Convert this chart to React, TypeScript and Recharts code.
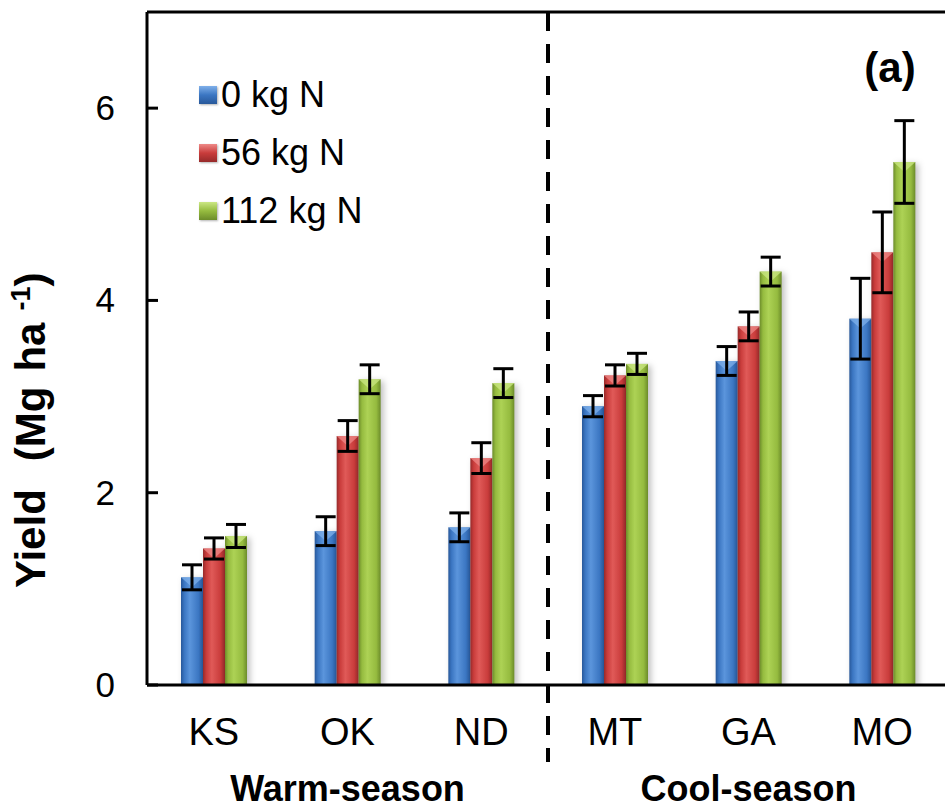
import React from "react";
import {
  BarChart,
  Bar,
  XAxis,
  YAxis,
  ErrorBar,
  ReferenceLine,
  Legend,
} from "recharts";

// sites along the x axis and the season group each block belongs to
const sites = ["KS", "OK", "ND", "MT", "GA", "MO"];
const groupLabels: Record<string, string> = {
  OK: "Warm-season",
  GA: "Cool-season",
};

// yield (Mg ha-1) and error bars per N rate
const yield0 = [1.12, 1.6, 1.64, 2.9, 3.37, 3.81];
const err0 = [0.13, 0.15, 0.15, 0.11, 0.15, 0.42];
const yield56 = [1.42, 2.59, 2.36, 3.22, 3.73, 4.5];
const err56 = [0.11, 0.16, 0.16, 0.11, 0.15, 0.42];
const yield112 = [1.55, 3.18, 3.14, 3.34, 4.3, 5.44];
const err112 = [0.12, 0.15, 0.15, 0.11, 0.15, 0.43];

const yTicks = [0, 2, 4, 6];

const data = sites.map((site, i) => ({
  site,
  n0: yield0[i],
  e0: err0[i],
  n56: yield56[i],
  e56: err56[i],
  n112: yield112[i],
  e112: err112[i],
}));

const FONT = "'Liberation Sans', Arial, sans-serif";

const series = [
  { key: "n0", err: "e0", name: "0 kg N", id: "gBlue", base: "#3b76c2", dark: "#28589a", light: "#5b95dc", top: "#7fb0ea" },
  { key: "n56", err: "e56", name: "56 kg N", id: "gRed", base: "#c93c3b", dark: "#962a2a", light: "#e05a58", top: "#ee8a88" },
  { key: "n112", err: "e112", name: "112 kg N", id: "gGreen", base: "#95bb3f", dark: "#6c8c2a", light: "#add255", top: "#cbe784" },
];

function makeShape(s: (typeof series)[number]) {
  return (props: any) => {
    const { x, y, width, height } = props;
    if (!height || height <= 0) return <g />;
    const b = Math.min(width * 0.45, height);
    return (
      <g style={{ filter: "drop-shadow(3px 2px 3px rgba(0,0,0,0.25))" }}>
        <rect x={x} y={y} width={width} height={height} fill={`url(#${s.id})`} />
        <polygon
          points={`${x},${y} ${x + width},${y} ${x + width / 2},${y + b}`}
          fill={s.top}
          opacity={0.75}
        />
      </g>
    );
  };
}

const YTick = (props: any) => {
  const { x, y, payload } = props;
  return (
    <g>
      <text
        x={x}
        y={y}
        dy={12}
        textAnchor="end"
        fontSize={35}
        fontFamily={FONT}
        fill="#000"
      >
        {payload.value}
      </text>
      <line x1={x + 32} x2={x + 43} y1={y} y2={y} stroke="#000" strokeWidth={3} />
    </g>
  );
};

const XTick = (props: any) => {
  const { x, y, payload } = props;
  const group = groupLabels[payload.value];
  return (
    <g>
      <text
        x={x}
        y={y + 60}
        textAnchor="middle"
        fontSize={38}
        fontFamily={FONT}
        fill="#000"
      >
        {payload.value}
      </text>
      {group && (
        <text
          x={x}
          y={y + 116}
          textAnchor="middle"
          fontSize={36}
          fontWeight="bold"
          fontFamily={FONT}
          fill="#000"
        >
          {group}
        </text>
      )}
    </g>
  );
};

const LegendBox = () => (
  <div style={{ fontFamily: FONT, fontSize: 36, color: "#000" }}>
    {series.map((s) => (
      <div
        key={s.key}
        style={{ display: "flex", alignItems: "center", height: 58 }}
      >
        <span
          style={{
            display: "inline-block",
            width: 18,
            height: 18,
            marginRight: 4,
            background: `linear-gradient(180deg, ${s.top} 0%, ${s.base} 50%, ${s.dark} 100%)`,
            boxShadow: "1px 1px 2px rgba(0,0,0,0.3)",
          }}
        />
        <span>{s.name}</span>
      </div>
    ))}
  </div>
);

export default function App() {
  return (
    <div
      style={{
        position: "absolute",
        left: 0,
        top: 0,
        width: 945,
        height: 809,
        overflow: "hidden",
        background: "#fff",
      }}
    >
      <svg width={0} height={0} style={{ position: "absolute" }}>
        <defs>
          {series.map((s) => (
            <linearGradient key={s.id} id={s.id} x1="0" y1="0" x2="1" y2="0">
              <stop offset="0%" stopColor={s.dark} />
              <stop offset="15%" stopColor={s.base} />
              <stop offset="40%" stopColor={s.light} />
              <stop offset="80%" stopColor={s.base} />
              <stop offset="100%" stopColor={s.dark} />
            </linearGradient>
          ))}
        </defs>
      </svg>

      <svg
        width={70}
        height={809}
        style={{ position: "absolute", left: 0, top: 0 }}
      >
        <text
          transform="translate(45,588) rotate(-90)"
          textAnchor="start"
          fontSize={42}
          fontWeight="bold"
          fontFamily={FONT}
          fill="#000"
        >
          Yield
          <tspan dx={28}>(Mg</tspan>
          <tspan dx={15}>ha</tspan>
          <tspan dx={12} dy={-15} fontSize={27}>-1</tspan>
          <tspan dy={15}>)</tspan>
        </text>
      </svg>

      <div style={{ position: "absolute", left: 0, top: 0 }}>
        <BarChart
          width={960}
          height={809}
          data={data}
          margin={{ top: 12, right: 11, left: 87, bottom: 0 }}
          barSize={22}
          barGap={0}
          barCategoryGap={0}
        >
          <XAxis
            dataKey="site"
            height={124}
            axisLine={{ stroke: "#000", strokeWidth: 3 }}
            tickLine={false}
            tickSize={0}
            tickMargin={0}
            tick={<XTick />}
            interval={0}
          />
          <YAxis
            width={60}
            domain={[0, 7]}
            ticks={yTicks}
            allowDataOverflow
            axisLine={{ stroke: "#000", strokeWidth: 3 }}
            tickLine={false}
            tickSize={0}
            tickMargin={32}
            tick={<YTick />}
          />
          <ReferenceLine y={7} stroke="#000" strokeWidth={3} />
          <ReferenceLine
            x="MT"
            position="start"
            ifOverflow="visible"
            shape={(p: any) => (
              <line
                x1={p.x1}
                y1={Math.min(p.y1, p.y2)}
                x2={p.x2}
                y2={Math.max(p.y1, p.y2) + 77}
                stroke="#000"
                strokeWidth={4}
                strokeDasharray="19 13"
              />
            )}
          />
          {series.map((s) => (
            <Bar
              key={s.key}
              dataKey={s.key}
              name={s.name}
              fill={s.base}
              shape={makeShape(s)}
              isAnimationActive={false}
            >
              <ErrorBar
                dataKey={s.err}
                width={10}
                stroke="#000"
                strokeWidth={3}
              />
            </Bar>
          ))}
          <Legend
            layout="vertical"
            align="center"
            verticalAlign="middle"
            content={<LegendBox />}
            wrapperStyle={{ left: 199, top: 66, width: 250, height: 180 }}
          />
        </BarChart>
      </div>

      <svg
        width={945}
        height={120}
        style={{ position: "absolute", left: 0, top: 0, pointerEvents: "none" }}
      >
        <text
          x={890}
          y={82}
          textAnchor="middle"
          fontSize={42}
          fontWeight="bold"
          fontFamily={FONT}
          fill="#000"
        >
          (a)
        </text>
      </svg>
    </div>
  );
}
